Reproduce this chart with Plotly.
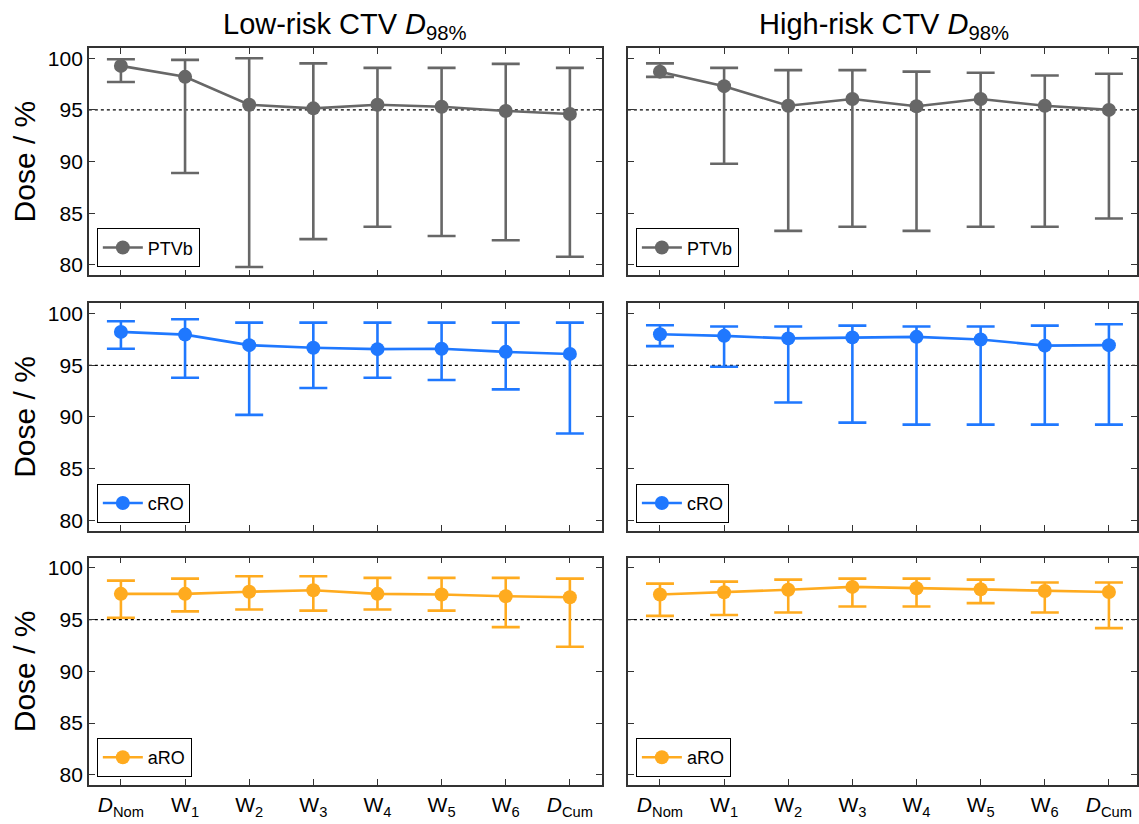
import plotly.graph_objects as go
from plotly.subplots import make_subplots

# ---------------- data ----------------
categories = ["<i>D</i><sub>Nom</sub>", "W<sub>1</sub>", "W<sub>2</sub>", "W<sub>3</sub>",
              "W<sub>4</sub>", "W<sub>5</sub>", "W<sub>6</sub>", "<i>D</i><sub>Cum</sub>"]
x_pos = [0, 1, 2, 3, 4, 5, 6, 7]
y_ticks = [80, 85, 90, 95, 100]
column_titles = ["Low-risk CTV <i>D</i><sub>98%</sub>", "High-risk CTV <i>D</i><sub>98%</sub>"]
series_names = ["PTVb", "cRO", "aRO"]
threshold = 95

# Low-risk CTV
low_ptvb_med = [99.26, 98.2, 95.5, 95.15, 95.5, 95.3, 94.9, 94.6]
low_ptvb_hi = [99.9, 99.84, 100.0, 99.5, 99.07, 99.07, 99.45, 99.07]
low_ptvb_lo = [97.7, 88.9, 79.8, 82.5, 83.7, 82.8, 82.4, 80.8]

low_cro_med = [98.23, 97.97, 96.95, 96.7, 96.56, 96.6, 96.3, 96.1]
low_cro_hi = [99.26, 99.45, 99.13, 99.13, 99.13, 99.13, 99.13, 99.13]
low_cro_lo = [96.6, 93.8, 90.2, 92.8, 93.8, 93.57, 92.67, 88.4]

low_aro_med = [97.5, 97.5, 97.7, 97.85, 97.5, 97.43, 97.27, 97.17]
low_aro_hi = [98.78, 98.97, 99.2, 99.2, 99.04, 99.04, 99.04, 98.97]
low_aro_lo = [95.18, 95.8, 95.98, 95.88, 95.98, 95.88, 94.28, 92.38]

# High-risk CTV
high_ptvb_med = [98.7, 97.3, 95.4, 96.05, 95.35, 96.05, 95.4, 95.0]
high_ptvb_hi = [99.5, 99.07, 98.85, 98.85, 98.7, 98.6, 98.33, 98.5]
high_ptvb_lo = [98.2, 89.8, 83.3, 83.7, 83.3, 83.7, 83.7, 84.5]

high_cro_med = [98.0, 97.85, 97.6, 97.7, 97.75, 97.5, 96.9, 96.95]
high_cro_hi = [98.87, 98.75, 98.75, 98.84, 98.75, 98.75, 98.84, 98.97]
high_cro_lo = [96.85, 94.86, 91.4, 89.45, 89.26, 89.26, 89.26, 89.26]

high_aro_med = [97.43, 97.65, 97.9, 98.17, 98.04, 97.94, 97.78, 97.68]
high_aro_hi = [98.49, 98.68, 98.87, 98.97, 98.97, 98.87, 98.59, 98.59]
high_aro_lo = [95.37, 95.46, 95.7, 96.27, 96.27, 96.6, 95.7, 94.18]

colors = {"PTVb": "#676767", "cRO": "#1f78ff", "aRO": "#ffab1f"}

panels = [  # (row, col, name, med, hi, lo)
    (1, 1, "PTVb", low_ptvb_med, low_ptvb_hi, low_ptvb_lo),
    (1, 2, "PTVb", high_ptvb_med, high_ptvb_hi, high_ptvb_lo),
    (2, 1, "cRO", low_cro_med, low_cro_hi, low_cro_lo),
    (2, 2, "cRO", high_cro_med, high_cro_hi, high_cro_lo),
    (3, 1, "aRO", low_aro_med, low_aro_hi, low_aro_lo),
    (3, 2, "aRO", high_aro_med, high_aro_hi, high_aro_lo),
]

# ---------------- layout geometry (pixels) ----------------
W, H = 1139, 824
col_px = [(89, 603), (629, 1139)]
row_px = [(47, 275), (303, 531), (558, 786)]
cat_step = (603 - 89) / 8.0
font_family = "Liberation Sans, Arial, sans-serif"
frame_color = "#333333"

fig = make_subplots(rows=3, cols=2)

for i, (r, c, name, med, hi, lo) in enumerate(panels):
    color = colors[name]
    err_plus = [h - m for h, m in zip(hi, med)]
    err_minus = [m - l for m, l in zip(med, lo)]
    legend_id = "legend" if i == 0 else f"legend{i + 1}"
    fig.add_trace(
        go.Scatter(
            x=x_pos, y=med, name=name, mode="lines+markers",
            line=dict(color=color, width=2.6),
            marker=dict(color=color, size=14),
            error_y=dict(type="data", symmetric=False, array=err_plus, arrayminus=err_minus,
                         color=color, thickness=2.6, width=14),
            legend=legend_id, showlegend=True,
        ),
        row=r, col=c,
    )
    fig.add_hline(y=threshold, row=r, col=c, line=dict(color="black", width=1.3, dash="dot"),
                  layer="below")

    x0, x1 = col_px[c - 1]
    y0, y1 = row_px[r - 1]
    xr_end = -0.5 + (x1 - x0) / cat_step
    fig.update_xaxes(
        domain=[x0 / W, x1 / W], range=[-0.5, xr_end],
        tickvals=x_pos, ticktext=categories, showticklabels=(r == 3),
        ticks="inside", ticklen=6, tickwidth=1.3, tickcolor=frame_color,
        showline=True, linecolor=frame_color, linewidth=1.6, mirror="ticks",
        showgrid=False, zeroline=False,
        tickfont=dict(size=21, color="black", family=font_family),
        row=r, col=c,
    )
    yaxis_kwargs = dict(
        domain=[1 - y1 / H, 1 - y0 / H], range=[79.0, 101.0],
        tickvals=y_ticks, showticklabels=(c == 1),
        ticks="inside", ticklen=6, tickwidth=1.3, tickcolor=frame_color,
        showline=True, linecolor=frame_color, linewidth=1.6, mirror="ticks",
        showgrid=False, zeroline=False,
        tickfont=dict(size=21, color="black", family=font_family),
    )
    if c == 1:
        yaxis_kwargs["title"] = dict(text="Dose / %", font=dict(size=30, color="black", family=font_family),
                                     standoff=3)
    fig.update_yaxes(row=r, col=c, **yaxis_kwargs)
    legend_cfg = dict(
        x=(x0 + 8) / W, y=1 - (y1 - 8) / H, xanchor="left", yanchor="bottom",
        bgcolor="white", bordercolor="black", borderwidth=1,
        font=dict(size=18, color="black", family=font_family),
        itemwidth=40, tracegroupgap=0,
    )
    fig.update_layout(**{legend_id: legend_cfg})

for j, title in enumerate(column_titles):
    x0, x1 = col_px[j]
    cx = (x0 + x0 + 514) / 2.0
    fig.add_annotation(
        text=title, x=cx / W, y=1 - 25 / H, xref="paper", yref="paper",
        xanchor="center", yanchor="middle", showarrow=False,
        font=dict(size=29, color="black", family=font_family),
    )

fig.update_layout(
    width=W, height=H,
    margin=dict(l=0, r=0, t=0, b=0),
    paper_bgcolor="white", plot_bgcolor="white",
    font=dict(family=font_family, color="black"),
)

fig.write_html("out.html", config={"displayModeBar": False},
               post_script="document.body.style.margin='0';document.body.style.overflow='hidden';")
